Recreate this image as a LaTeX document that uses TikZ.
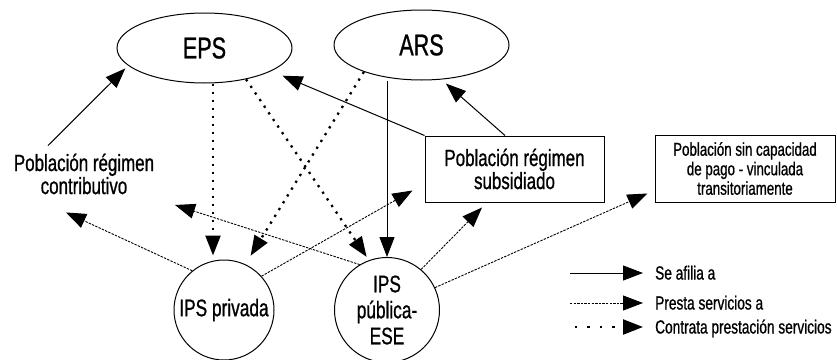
\documentclass[tikz,border=0pt]{standalone}
\usepackage{fontspec}
\setmainfont{Liberation Sans}[FakeStretch=0.72,FakeBold=0.8]
\usetikzlibrary{shapes.geometric,arrows.meta}

\begin{document}
\begin{tikzpicture}[x=1pt,y=-1pt,
    entidad/.style={ellipse,draw,line width=1pt,minimum width=175pt,minimum height=70pt,inner sep=0pt,font=\fontsize{30}{32}\selectfont},
    ips/.style={circle,draw,line width=1pt,inner sep=0pt,align=center,font=\fontsize{24}{26}\selectfont},
    poblacion/.style={align=center,inner sep=0pt,font=\fontsize{23.5}{23}\selectfont},
    caja/.style={draw,line width=1pt},
    punta/.style={-{Triangle[length=20pt,width=15pt]}},
    afilia/.style={punta,line width=1pt},
    presta/.style={punta,line width=0.9pt,dash pattern=on 2.4pt off 1.2pt},
    contrata/.style={punta,line width=2.3pt,dash pattern=on 2.3pt off 5.7pt},
    contrataley/.style={contrata,dash pattern=on 2.3pt off 10.1pt},
    leyenda/.style={anchor=west,inner sep=0pt,text height=13pt,text depth=0pt,font=\fontsize{19}{19}\selectfont}]

  \useasboundingbox (0,0) rectangle (837,359);

  \node[entidad] (eps) at (204.5,48) {EPS};
  \node[entidad] (ars) at (421.5,45) {ARS};

  \node[poblacion] (pc) at (84,174) {Población régimen\\contributivo};
  \node[caja,poblacion,minimum width=179pt,minimum height=66pt] (ps) at (514.5,169) {Población régimen\\subsidiado};
  \node[caja,align=center,inner sep=0pt,font=\fontsize{18.5}{19.5}\selectfont,minimum width=180pt,minimum height=67pt] (psc) at (745,168.5) {Población sin capacidad\\de pago - vinculada\\transitoriamente};

  \node[ips,minimum size=100pt] (ipsp) at (224,310) {IPS privada};
  \node[ips,minimum size=105pt] (ipse) at (387,310) {IPS\\pública-\\ESE};

  \coordinate (libre) at (175,205);

  % se afilia a
  \draw[afilia,shorten >=4pt] ([xshift=-36pt,yshift=8pt]pc.north) -- (eps.193);
  \draw[afilia,shorten >=12pt] (ps.north west) -- (eps.-19);
  \draw[afilia,shorten >=6pt] ([xshift=-9.5pt]ps.north) -- (ars.-60);
  \draw[afilia] (ars.south -| ipse) -- (ipse.north);

  % contrata prestacion de servicios
  \draw[contrata] ([xshift=8.5pt]eps.south) -- ([xshift=-11pt,yshift=4pt]ipsp.north);
  \draw[contrata,shorten >=4pt] (eps.-37) -- (ipse.110);
  \draw[contrata,shorten >=10pt] (ars.-155) -- (ipsp.65);

  % presta servicios a
  \draw[presta] (ipsp.129) -- ([xshift=-18pt,yshift=-18pt]pc.south);
  \draw[presta] (ipsp.42) -- ([xshift=-12pt,yshift=12pt]ps.south west);
  \draw[presta] (ipse.121) -- (libre);
  \draw[presta] (ipse.50) -- ([xshift=-32.5pt,yshift=-5pt]ps.south);
  \draw[presta] (ipse.25) -- ([xshift=-7pt,yshift=9pt]psc.south west);

  \foreach \i/\x/\y/\estilo/\texto in {1/570/273/afilia/Se afilia a, 2/570/303/presta/Presta servicios a, 3/575/327/contrataley/Contrata prestación servicios} {
    \node[leyenda] (ley\i) at (655,\y) {\texto};
    \coordinate (ini\i) at (\x,\y);
    \draw[\estilo,shorten >=12pt] (ini\i) -- (ley\i);
  }
\end{tikzpicture}
\end{document}
